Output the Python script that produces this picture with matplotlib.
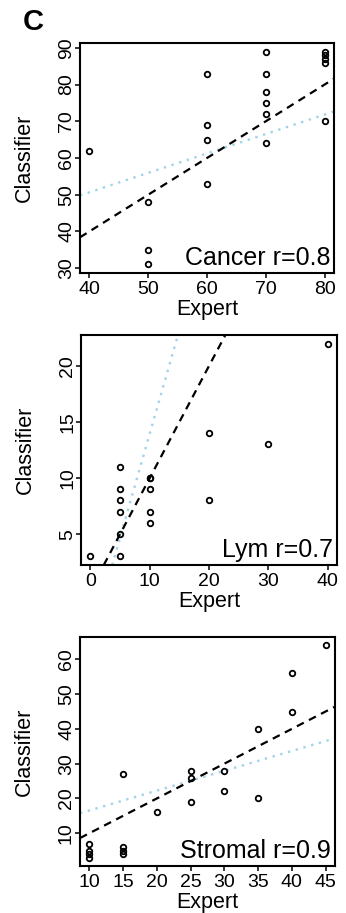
import matplotlib
matplotlib.use("Agg")
import matplotlib.pyplot as plt

plt.rcParams['font.family'] = ['Liberation Sans', 'DejaVu Sans']

# Cancer panel
cancer_expert = [40, 50, 50, 50, 60, 60, 60, 60, 70, 70, 70, 70, 70, 70, 80, 80, 80, 80, 80]
cancer_classifier = [62, 48, 35, 31, 83, 69, 65, 53, 89, 83, 78, 75, 72, 64, 89, 88, 87, 86, 70]
cancer_fit = [29.5, 0.529]  # intercept, slope of dotted fit line
cancer_xticks = [40, 50, 60, 70, 80]
cancer_yticks = [30, 40, 50, 60, 70, 80, 90]

# Lymphocyte panel
lym_expert = [0, 5, 5, 5, 5, 5, 5, 10, 10, 10, 10, 10, 20, 20, 30, 40]
lym_classifier = [3, 11, 9, 8, 7, 5, 3, 10, 10, 9, 7, 6, 14, 8, 13, 22]
lym_fit = [-4.55, 1.85]
lym_xticks = [0, 10, 20, 30, 40]
lym_yticks = [5, 10, 15, 20]

# Stromal panel
stromal_expert = [10, 10, 10, 10, 15, 15, 15, 15, 20, 25, 25, 25, 30, 30, 35, 35, 40, 40, 45]
stromal_classifier = [7, 5, 4, 3, 27, 6, 5, 4, 16, 28, 26, 19, 28, 22, 40, 20, 56, 45, 64]
stromal_fit = [10.85, 0.57]
stromal_xticks = [10, 15, 20, 25, 30, 35, 40, 45]
stromal_yticks = [10, 20, 30, 40, 50, 60]

labels = ['Cancer r=0.8', 'Lym r=0.7', 'Stromal r=0.9']

W, H = 346, 913
fig = plt.figure(figsize=(W / 100, H / 100), dpi=100)

# axes boxes in pixels: left, top, right, bottom
boxes = [(80, 43, 334, 273), (81, 335, 337, 565), (80, 637, 335, 866)]

panels = [
    (cancer_expert, cancer_classifier, cancer_fit, cancer_xticks, cancer_yticks),
    (lym_expert, lym_classifier, lym_fit, lym_xticks, lym_yticks),
    (stromal_expert, stromal_classifier, stromal_fit, stromal_xticks, stromal_yticks),
]

for (x, y, fit, xt, yt), box, lab in zip(panels, boxes, labels):
    l, t, r, b = box
    ax = fig.add_axes([l / W, 1 - b / H, (r - l) / W, (b - t) / H])
    ax.plot(x, y, 'o', mfc='none', mec='black', ms=4, mew=1.3, zorder=3)
    ax.margins(0.04)
    ax.autoscale_view()
    ax.set_autoscale_on(False)
    # identity line
    ax.axline((0, 0), slope=1, color='black', lw=1.6, ls=(0, (3.5, 2.6)), zorder=2)
    # fitted line
    ax.axline((0, fit[0]), slope=fit[1], color='#9fd3e8', lw=1.7, ls=(0, (1, 2.4)), zorder=1)
    ax.set_xticks(xt)
    ax.set_yticks(yt)
    ax.tick_params(direction='out', length=3.6, width=1.1, labelsize=14, pad=0)
    ax.tick_params(axis='x', pad=2)
    for tl in ax.get_yticklabels():
        tl.set_rotation(90)
        tl.set_va('center')
    for s in ax.spines.values():
        s.set_linewidth(1.5)
    ax.set_xlabel('Expert', fontsize=15.5, labelpad=1)
    ax.set_ylabel('Classifier', fontsize=15.5)
    ax.yaxis.set_label_coords(-0.178, 0.5)
    ax.text(0.985, 0.012, lab, transform=ax.transAxes, ha='right', va='bottom', fontsize=18)

fig.text(23 / W, 1 - 30 / H, 'C', fontsize=21, fontweight='bold', ha='left', va='baseline')

fig.savefig('out.png', dpi=100)
